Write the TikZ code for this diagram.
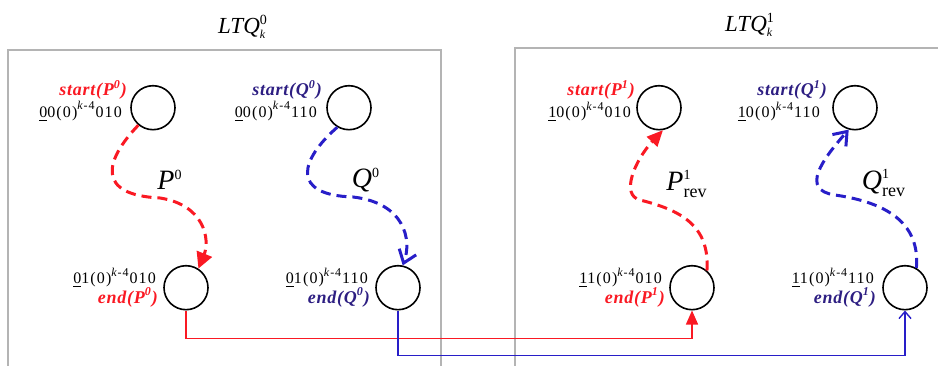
\documentclass[tikz,border=0pt]{standalone}
\usepackage{fontspec}
\setmainfont{Liberation Serif}
\usepackage{amsmath}
\usetikzlibrary{positioning,arrows.meta}
\definecolor{pathred}{RGB}{250,25,35}
\definecolor{pathblue}{RGB}{40,30,200}
\definecolor{labelblue}{RGB}{45,30,130}
\definecolor{boxgray}{RGB}{180,180,180}
\newcommand{\codetext}[3]{\underline{#1}#2(0)\raisebox{1pt}{\textsuperscript{\textit{k}-4}}#3}

\begin{document}
\begin{tikzpicture}[x=0.5pt,y=0.5pt,
  vertex/.style={circle,draw,line width=0.8pt,minimum size=22pt,inner sep=0pt},
  code/.style={inner sep=0pt,font=\fontsize{8}{9}\selectfont\addfontfeature{LetterSpace=7}},
  endpoint/.style={inner sep=0pt,font=\fontsize{9}{10}\selectfont\bfseries\itshape\addfontfeature{LetterSpace=4}},
  pathlab/.style={inner sep=0pt,font=\fontsize{14}{16}\selectfont},
  title/.style={inner sep=0pt,font=\fontsize{11.5}{13}\selectfont},
  dashpath/.style={line width=1.5pt,dash pattern=on 5pt off 3pt},
  subcube/.style={draw=boxgray,line width=0.6pt},
  link/.style={line width=0.7pt}]
  \useasboundingbox (0,0) rectangle (938,365);
  % the two subcubes
  \draw[subcube] (8,-10) -- (8,315) -- (441,315) -- (441,-10);
  \draw[subcube] (515,-10) -- (515,317) -- (950,317);
  \node[title] (title0) at (243,338) {\textit{LTQ}$^{\text{\fontsize{7}{8}\selectfont 0}}_{\text{\fontsize{6}{7}\selectfont\itshape k}}$};
  \node[title] (title1) at (750,340) {\textit{LTQ}$^{\text{\fontsize{7}{8}\selectfont 1}}_{\text{\fontsize{6}{7}\selectfont\itshape k}}$};

  % vertices
  \node[vertex] (sP0) at (153,257.3) {};
  \node[vertex] (sQ0) at (349,257.3) {};
  \node[vertex] (eP0) at (186,77.3) {};
  \node[vertex] (eQ0) at (398,77.3) {};
  \node[vertex] (sP1) at (659,257.3) {};
  \node[vertex] (sQ1) at (855,257.3) {};
  \node[vertex] (eP1) at (692,77.3) {};
  \node[vertex] (eQ1) at (905,77.3) {};

  % labels of the vertices
  \node[endpoint,text=pathred,left=1.5pt of sP0,yshift=8.9pt] (sP0lab) {start(P\textsuperscript{0})};
  \node[code,left=4pt of sP0,yshift=-1.9pt] (sP0code) {\codetext{0}{0}{010}};
  \node[endpoint,text=labelblue,left=2pt of sQ0,yshift=8.9pt] (sQ0lab) {start(Q\textsuperscript{0})};
  \node[code,left=4.5pt of sQ0,yshift=-1.9pt] (sQ0code) {\codetext{0}{0}{110}};
  \node[code,left=3.5pt of eP0,yshift=5pt] (eP0code) {\codetext{0}{1}{010}};
  \node[endpoint,text=pathred,left=2.5pt of eP0,yshift=-5pt] (eP0lab) {end(P\textsuperscript{0})};
  \node[code,left=3.5pt of eQ0,yshift=5pt] (eQ0code) {\codetext{0}{1}{110}};
  \node[endpoint,text=labelblue,left=2.5pt of eQ0,yshift=-5pt] (eQ0lab) {end(Q\textsuperscript{0})};

  \node[endpoint,text=pathred,left=0.5pt of sP1,yshift=8.9pt] (sP1lab) {start(P\textsuperscript{1})};
  \node[code,left=2.5pt of sP1,yshift=-1.9pt] (sP1code) {\codetext{1}{0}{010}};
  \node[endpoint,text=labelblue,left=2.5pt of sQ1,yshift=8.9pt] (sQ1lab) {start(Q\textsuperscript{1})};
  \node[code,left=6pt of sQ1,yshift=-1.9pt] (sQ1code) {\codetext{1}{0}{110}};
  \node[code,left=3.5pt of eP1,yshift=5pt] (eP1code) {\codetext{1}{1}{010}};
  \node[endpoint,text=pathred,left=2pt of eP1,yshift=-5pt] (eP1lab) {end(P\textsuperscript{1})};
  \node[code,left=4pt of eQ1,yshift=5pt] (eQ1code) {\codetext{1}{1}{110}};
  \node[endpoint,text=labelblue,left=3pt of eQ1,yshift=-5pt] (eQ1lab) {end(Q\textsuperscript{1})};

  % paths inside the subcubes
  \draw[dashpath,pathred,-{Triangle[length=8pt,width=8pt]}] (sP0.230)
    .. controls (105,205) and (95,170) .. (160,167)
    .. controls (205,160) and (210,125) .. (eP0.57);
  \node[pathlab] (P0lab) at (170,185) {\textit{P}$^{\text{\fontsize{7}{8}\selectfont 0}}$};
  \draw[dashpath,pathblue,-{Straight Barb[length=6pt,width=9pt]}] (sQ0.239)
    .. controls (300,205) and (290,170) .. (353,168)
    .. controls (405,162) and (412,125) .. (eQ0.78);
  \node[pathlab] (Q0lab) at (366,185) {\textit{Q}$^{\text{\fontsize{7}{8}\selectfont 0}}$};
  \draw[dashpath,pathred,-{Triangle[length=8pt,width=7pt]}] (eP1.49)
    .. controls (710,140) and (680,155) .. (640,165)
    .. controls (620,170) and (635,205) .. (sP1.280);
  \node[pathlab] (P1lab) at (687,181) {\textit{P}$^{\text{\fontsize{7}{8}\selectfont 1}}_{\text{\fontsize{9}{10}\selectfont rev}}$};
  \draw[dashpath,pathblue,-{Straight Barb[length=6pt,width=9pt]}] (eQ1.60)
    .. controls (920,140) and (890,162) .. (835,170)
    .. controls (800,175) and (822,205) .. (sQ1.254);
  \node[pathlab] (Q1lab) at (884,182) {\textit{Q}$^{\text{\fontsize{7}{8}\selectfont 1}}_{\text{\fontsize{9}{10}\selectfont rev}}$};

  % links between the subcubes
  \draw[link,pathred,-{Triangle[length=7pt,width=6pt]}] (eP0.south) -- ++(0,-28) -| (eP1.south);
  \draw[link,pathblue,-{Straight Barb[length=3.5pt,width=6pt]}] (eQ0.south) -- ++(0,-45) -| (eQ1.south);
\end{tikzpicture}
\end{document}
